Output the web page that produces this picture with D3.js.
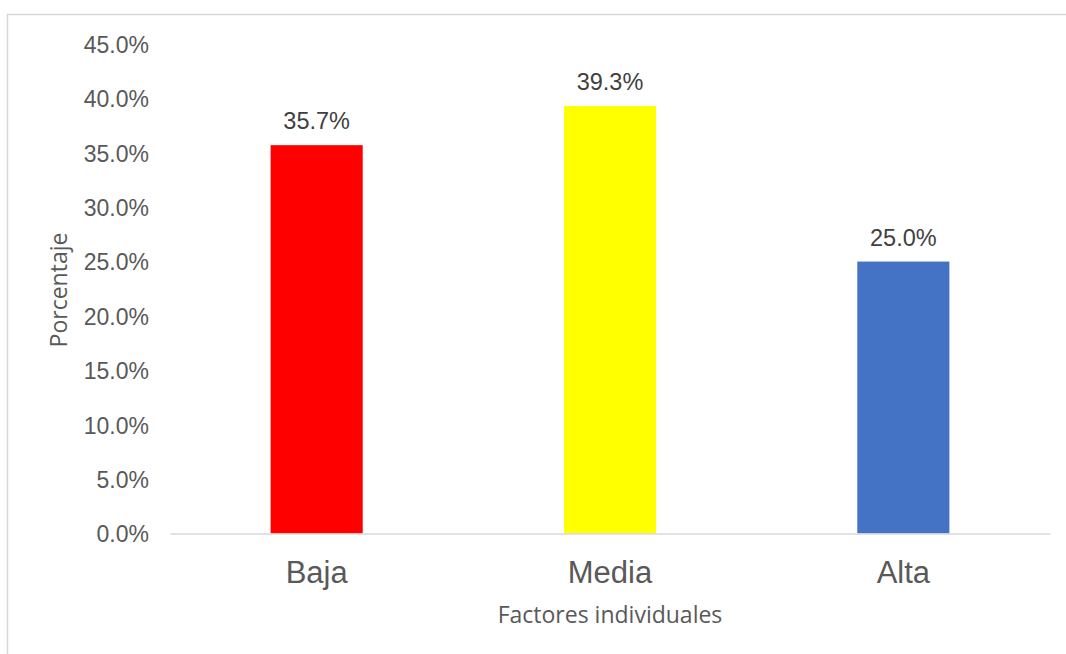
<!DOCTYPE html>
<html>
<head>
<meta charset="utf-8">
<script src="https://cdn.jsdelivr.net/npm/d3@7"></script>
<style>
  html, body { margin: 0; padding: 0; background: #fff; }
  svg { display: block; }
</style>
</head>
<body>
<svg id="chart" width="1066" height="654"></svg>
<script>
// Chart data
const categories = ["Baja", "Media", "Alta"];
const values = [35.7, 39.3, 25.0];
const barColors = ["#FF0000", "#FFFF00", "#4472C4"];
const yTicks = [0, 5, 10, 15, 20, 25, 30, 35, 40, 45];
const yTitle = "Porcentaje";
const xTitle = "Factores individuales";

const svg = d3.select("#chart");

// Outer chart frame (runs past the right and bottom edges)
svg.append("rect")
  .attr("x", 7.5).attr("y", 14.5)
  .attr("width", 1080).attr("height", 680)
  .attr("fill", "#fff")
  .attr("stroke", "#d9d9d9")
  .attr("stroke-width", 1.5);

const plot = { left: 170, right: 1050, top: 44, bottom: 533.5 };

const x = d3.scaleBand()
  .domain(categories)
  .range([plot.left, plot.right])
  .paddingInner(0.686)
  .paddingOuter(0.343);

const y = d3.scaleLinear()
  .domain([0, 45])
  .range([plot.bottom, plot.top]);

// Y axis tick labels (no axis line, no tick marks)
const yAxis = d3.axisLeft(y)
  .tickValues(yTicks)
  .tickSize(0)
  .tickPadding(0)
  .tickFormat(d => d.toFixed(1) + "%");

const gy = svg.append("g")
  .attr("transform", `translate(149,0)`)
  .call(yAxis);
gy.select(".domain").remove();
gy.selectAll("text")
  .attr("font-family", "Liberation Sans, Arial, sans-serif")
  .attr("font-size", 23)
  .attr("fill", "#595959")
  .attr("dy", "0.36em");

// Bars
svg.append("g").selectAll("rect")
  .data(values)
  .join("rect")
  .attr("x", (d, i) => x(categories[i]))
  .attr("y", d => y(d))
  .attr("width", x.bandwidth())
  .attr("height", d => y(0) - y(d))
  .attr("fill", (d, i) => barColors[i]);

// Category axis
const xAxis = d3.axisBottom(x).tickSize(0).tickPadding(0);
const gx = svg.append("g")
  .attr("transform", `translate(0,${plot.bottom})`)
  .call(xAxis);
gx.select(".domain")
  .attr("stroke", "#d9d9d9")
  .attr("stroke-width", 1.5);
gx.selectAll("text")
  .attr("font-family", "Liberation Sans, Arial, sans-serif")
  .attr("font-size", 31)
  .attr("fill", "#595959")
  .attr("dy", null)
  .attr("y", 49.5);

// Data labels
svg.append("g").selectAll("text")
  .data(values)
  .join("text")
  .attr("x", (d, i) => x(categories[i]) + x.bandwidth() / 2)
  .attr("y", d => y(d) - 16)
  .attr("text-anchor", "middle")
  .attr("font-family", "Liberation Sans, Arial, sans-serif")
  .attr("font-size", 23.5)
  .attr("fill", "#404040")
  .text(d => d.toFixed(1) + "%");

// Axis titles
svg.append("text")
  .attr("transform", "translate(67,290) rotate(-90)")
  .attr("text-anchor", "middle")
  .attr("font-family", "Open Sans, Noto Sans, sans-serif")
  .attr("font-size", 23)
  .attr("fill", "#595959")
  .text(yTitle);

svg.append("text")
  .attr("x", 610)
  .attr("y", 623)
  .attr("text-anchor", "middle")
  .attr("font-family", "Open Sans, Noto Sans, sans-serif")
  .attr("font-size", 23)
  .attr("fill", "#595959")
  .text(xTitle);
</script>
</body>
</html>
